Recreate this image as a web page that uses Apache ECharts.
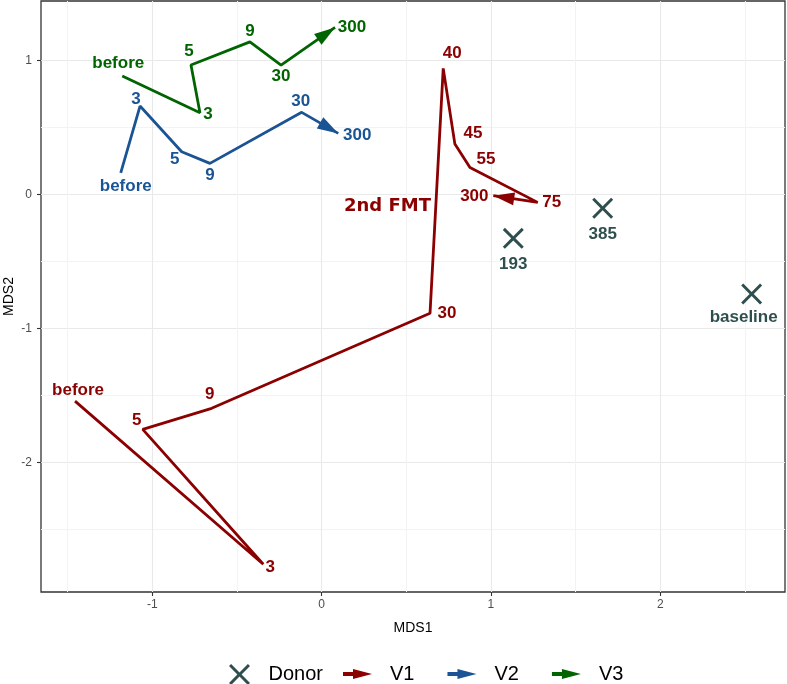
<!DOCTYPE html>
<html><head><meta charset="utf-8">
<script src="https://cdn.jsdelivr.net/npm/echarts@6/dist/echarts.min.js"></script>
<style>html,body{margin:0;padding:0;background:#fff}#c{width:787px;height:684px}</style>
</head><body><div id="c"></div>
<script>
// ---- data ----
const v1Labels = ['before','3','5','9','30','40','45','55','75','300'];
const v1X = [-1.457,-0.345,-1.057,-0.650,0.640,0.718,0.787,0.876,1.276,1.014];
const v1Y = [-1.543,-2.761,-1.754,-1.597,-0.888,0.940,0.375,0.201,-0.060,-0.010];
const v2Labels = ['before','3','5','9','30','300'];
const v2X = [-1.187,-1.073,-0.827,-0.660,-0.118,0.098];
const v2Y = [0.161,0.659,0.318,0.231,0.612,0.455];
const v3Labels = ['before','3','5','9','30','300'];
const v3X = [-1.178,-0.719,-0.772,-0.424,-0.240,0.079];
const v3Y = [0.883,0.609,0.965,1.138,0.965,1.246];
const donorLabels = ['193','385','baseline'];
const donorX = [1.132,1.660,2.540];
const donorY = [-0.328,-0.104,-0.744];
const noteText = ['2nd FMT'];
const noteX = [0.389];
const noteY = [-0.090];
const legendNames = ['Donor','V1','V2','V3'];

// ---- styling (label placement offsets in px) ----
const v1Off = [[3,-11],[7,3],[-6,-9],[-2,-14],[17,0],[9,-15],[18,-11],[16,-8],[14,0],[-19,1]];
const v2Off = [[5,14],[-4,-7],[-7,8],[0,12],[-1,-11],[19,2]];
const v3Off = [[-4,-13],[8,2],[-2,-14],[0,-11],[0,11],[17,0]];
const donorOff = [[0,26],[0,26],[-8,23]];
const RED = '#8b0000', BLUE = '#1a5494', GREEN = '#006400', SLATE = '#2f4f4f';
const FONT = 'Liberation Sans';
const xPath = 'path://M0,2L2,0L10,8L18,0L20,2L12,10L20,18L18,20L10,12L2,20L0,18L8,10Z';
const arrowIcon = 'path://M0,3L10,3L10,0L29,5L10,10L10,7L0,7Z';

function pathSeries(xs, ys, labels, offs, color) {
  return {
    type: 'line', z: 3, silent: true, animation: false,
    symbol: 'circle', symbolSize: 0.01, showSymbol: true,
    lineStyle: { color: color, width: 2.8 },
    itemStyle: { color: color, opacity: 1 },
    data: xs.map((x, i) => ({ value: [x, ys[i]], label: { offset: offs[i] } })),
    label: { show: true, position: 'inside', formatter: p => labels[p.dataIndex],
      color: color, fontFamily: FONT, fontWeight: 'bold', fontSize: 17 },
    emphasis: { disabled: true }
  };
}
function arrowSeries(name, xs, ys, color) {
  const n = xs.length;
  return {
    name: name, type: 'custom', z: 4, silent: true, animation: false,
    itemStyle: { color: color, opacity: 1 },
    encode: { x: [0, 2], y: [1, 3] },
    data: [[xs[n-2], ys[n-2], xs[n-1], ys[n-1]]],
    renderItem: function (params, api) {
      const a = api.coord([api.value(0), api.value(1)]);
      const b = api.coord([api.value(2), api.value(3)]);
      const dx = b[0]-a[0], dy = b[1]-a[1], len = Math.hypot(dx, dy);
      const ux = dx/len, uy = dy/len, L = 21, W = 6.5;
      const bx = b[0]-ux*L, by = b[1]-uy*L;
      return { type: 'polygon',
        shape: { points: [[b[0], b[1]], [bx-uy*W, by+ux*W], [bx+uy*W, by-ux*W]] },
        style: { fill: color } };
    }
  };
}

const chart = echarts.init(document.getElementById('c'), null, { renderer: 'canvas' });
const axisCommon = {
  type: 'value',
  nameLocation: 'middle',
  nameMoveOverlap: false,
  nameTextStyle: { fontSize: 14, color: '#000', fontFamily: FONT },
  axisLine: { show: false, onZero: false },
  axisTick: { show: true, length: 4, lineStyle: { color: '#333', width: 1.1 } },
  splitLine: { show: true, showMinLine: false, showMaxLine: false, lineStyle: { color: '#e9e9e9', width: 1.1 } },
  minorTick: { show: false, splitNumber: 2 },
  minorSplitLine: { show: true, lineStyle: { color: '#f3f3f3', width: 1 } }
};
chart.setOption({
  animation: false,
  backgroundColor: '#fff',
  grid: { left: 41, right: 2, top: 1, bottom: 92, containLabel: false, outerBoundsMode: 'none',
    show: true, borderColor: '#333', borderWidth: 1.3, backgroundColor: '#fff' },
  xAxis: Object.assign({}, axisCommon, {
    min: -1.658, max: 2.737, name: 'MDS1', nameGap: 29,
    axisLabel: { color: '#4d4d4d', fontSize: 12, margin: 7, showMinLabel: false, showMaxLabel: false, fontFamily: FONT }
  }),
  yAxis: Object.assign({}, axisCommon, {
    min: -2.968, max: 1.443, name: 'MDS2', nameGap: 25,
    axisLabel: { color: '#4d4d4d', fontSize: 12, margin: 9, showMinLabel: false, showMaxLabel: false, fontFamily: FONT }
  }),
  legend: [
    { data: [{ name: legendNames[0], icon: xPath }], left: 224, top: 659, itemWidth: 22, itemHeight: 21,
      selectedMode: false, textStyle: { fontSize: 20, color: '#000', fontFamily: FONT, padding: [0,0,0,13] } },
    { data: legendNames.slice(1).map(n => ({ name: n, icon: arrowIcon })), left: 338, top: 659, itemWidth: 29, itemHeight: 10,
      itemGap: 33, selectedMode: false, textStyle: { fontSize: 20, color: '#000', fontFamily: FONT, padding: [0,0,0,13] } }
  ],
  series: [
    pathSeries(v1X, v1Y, v1Labels, v1Off, RED),
    pathSeries(v2X, v2Y, v2Labels, v2Off, BLUE),
    pathSeries(v3X, v3Y, v3Labels, v3Off, GREEN),
    arrowSeries('V1', v1X, v1Y, RED),
    arrowSeries('V2', v2X, v2Y, BLUE),
    arrowSeries('V3', v3X, v3Y, GREEN),
    {
      name: 'Donor', type: 'scatter', z: 5, silent: true, animation: false,
      symbol: xPath, symbolSize: 21, symbolKeepAspect: false, itemStyle: { color: SLATE, opacity: 1 },
      data: donorX.map((x, i) => ({ value: [x, donorY[i]], label: { offset: donorOff[i] } })),
      label: { show: true, position: 'inside', formatter: p => donorLabels[p.dataIndex],
        color: SLATE, fontFamily: FONT, fontWeight: 'bold', fontSize: 17 },
      emphasis: { disabled: true }
    },
    {
      type: 'scatter', z: 5, silent: true, animation: false, symbolSize: 0,
      itemStyle: { opacity: 1 },
      data: noteX.map((x, i) => [x, noteY[i]]),
      label: { show: true, position: 'inside', formatter: p => noteText[p.dataIndex],
        color: RED, fontFamily: 'DejaVu Sans', fontWeight: 'bold', fontSize: 18 },
      emphasis: { disabled: true }
    }
  ]
});
</script></body></html>
